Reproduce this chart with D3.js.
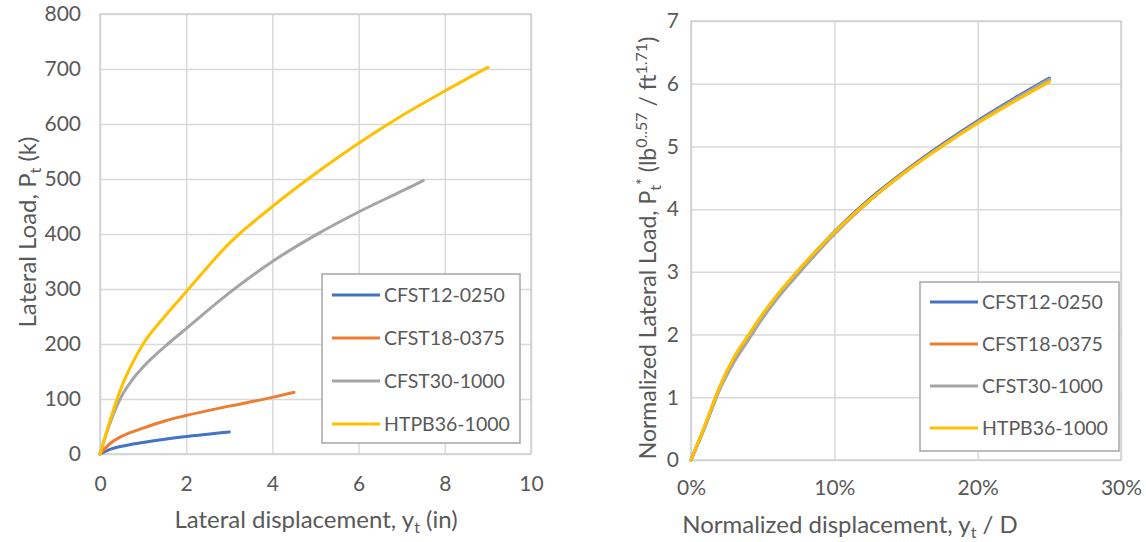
<!DOCTYPE html>
<html>
<head>
<meta charset="utf-8">
<script src="https://cdn.jsdelivr.net/npm/d3@7"></script>
<style>
  body { margin: 0; background: #fff; }
  text { font-family: Lato, "Open Sans", sans-serif; fill: #595959; }
</style>
</head>
<body>
<svg id="chart" width="1146" height="542"></svg>
<script>
// series names + colours
var names = ["CFST12-0250", "CFST18-0375", "CFST30-1000", "HTPB36-1000"];
var colors = ["#4472C4", "#ED7D31", "#A5A5A5", "#FFC000"];

// left panel: lateral displacement (in) vs lateral load (k)
var disp12 = [0, 0.25, 0.5, 1, 1.5, 2, 2.5, 3];
var load12 = [0, 9, 14, 21, 27, 32, 36, 40];
var disp18 = [0, 0.25, 0.5, 1, 1.5, 2, 3, 4, 4.5];
var load18 = [0, 20, 32, 47, 60, 70, 87, 103, 112];
var disp30 = [0, 0.25, 0.5, 0.75, 1, 1.5, 2, 3, 4, 5, 6, 7, 7.5];
var load30 = [0, 60, 105, 135, 158, 195, 228, 293, 350, 398, 440, 478, 497];
var disp36 = [0, 0.25, 0.5, 0.75, 1, 1.5, 2, 3, 4, 5, 6, 7, 8, 9];
var load36 = [0, 65, 122, 165, 200, 250, 295, 383, 450, 510, 565, 615, 660, 703];

// right panel: normalized displacement (yt/D) vs normalized load
var ndisp = [0, 0.01, 0.02, 0.03, 0.04, 0.05, 0.06, 0.075, 0.1, 0.125, 0.15, 0.175, 0.2, 0.225, 0.25];
var nload12 = [0, 0.55, 1.15, 1.62, 1.97, 2.31, 2.62, 3.02, 3.64, 4.17, 4.62, 5.03, 5.41, 5.76, 6.09];
var nload18 = [0, 0.56, 1.16, 1.62, 1.97, 2.31, 2.61, 3.01, 3.63, 4.15, 4.61, 5.01, 5.39, 5.73, 6.06];
var nload30 = [0, 0.54, 1.12, 1.56, 1.91, 2.26, 2.57, 2.97, 3.6, 4.14, 4.6, 5.01, 5.39, 5.74, 6.07];
var nload36 = [0, 0.57, 1.17, 1.64, 1.99, 2.33, 2.63, 3.03, 3.63, 4.15, 4.6, 5.0, 5.37, 5.71, 6.03];

var leftTicksY = [0, 100, 200, 300, 400, 500, 600, 700, 800];
var leftTicksX = [0, 2, 4, 6, 8, 10];
var rightTicksY = [0, 1, 2, 3, 4, 5, 6, 7];
var rightTicksX = [0, 0.1, 0.2, 0.3];

var svg = d3.select("#chart");

function zip(xs, ys) {
	return xs.map(function(x, i) { return [x, ys[i]]; });
}

function drawPanel(p) {
	var g = svg.append("g");
	var x = d3.scaleLinear().domain(p.xDomain).range([p.left, p.right]);
	var y = d3.scaleLinear().domain(p.yDomain).range([p.bottom, p.top]);

	// grid + tick labels
	var yAxis = g.append("g")
		.attr("transform", "translate(" + p.left + ",0)")
		.call(d3.axisLeft(y).tickValues(p.yTicks).tickSize(-(p.right - p.left)).tickPadding(p.yPad).tickFormat(p.yFmt));
	var xAxis = g.append("g")
		.attr("transform", "translate(0," + p.bottom + ")")
		.call(d3.axisBottom(x).tickValues(p.xTicks).tickSize(-(p.bottom - p.top)).tickPadding(p.xPad).tickFormat(p.xFmt));
	[yAxis, xAxis].forEach(function(a) {
		a.select(".domain").remove();
		a.selectAll(".tick line").style("stroke", "#d9d9d9").style("stroke-width", 1.5);
		a.selectAll(".tick text").style("font-size", "21px").style("fill", "#595959")
			.style("font-family", "Lato, 'Open Sans', sans-serif");
	});

	g.append("rect")
		.attr("x", p.left).attr("y", p.top)
		.attr("width", p.right - p.left).attr("height", p.bottom - p.top)
		.style("fill", "none").style("stroke", "#d0d0d0").style("stroke-width", 1.5);

	var line = d3.line()
		.x(function(d) { return x(d[0]); })
		.y(function(d) { return y(d[1]); })
		.curve(d3.curveMonotoneX);

	p.series.forEach(function(s, k) {
		g.append("path")
			.datum(s)
			.attr("d", line)
			.style("fill", "none")
			.style("stroke", colors[k])
			.style("stroke-width", 3)
			.style("stroke-linecap", "round");
	});

	// legend
	var lg = p.legend;
	g.append("rect")
		.attr("x", lg.x).attr("y", lg.y).attr("width", lg.w).attr("height", lg.h)
		.style("fill", "#fff").style("stroke", "#a6a6a6").style("stroke-width", 1.5);
	names.forEach(function(n, k) {
		var yy = lg.y + lg.first + k * lg.step;
		g.append("line")
			.attr("x1", lg.x + 10).attr("x2", lg.x + 58)
			.attr("y1", yy).attr("y2", yy)
			.style("stroke", colors[k]).style("stroke-width", 3);
		g.append("text")
			.attr("x", lg.x + 62).attr("y", yy + 7)
			.style("font-size", "19.5px")
			.text(n);
	});

	return g;
}

var leftG = drawPanel({
	left: 100, right: 531, top: 14, bottom: 454,
	xDomain: [0, 10], yDomain: [0, 800],
	xTicks: leftTicksX, yTicks: leftTicksY,
	xFmt: d3.format("d"), yFmt: d3.format("d"),
	yPad: 19, xPad: 22,
	series: [zip(disp12, load12), zip(disp18, load18), zip(disp30, load30), zip(disp36, load36)],
	legend: {x: 322, y: 274, w: 198, h: 169, first: 21, step: 43}
});

var rightG = drawPanel({
	left: 691, right: 1121, top: 21, bottom: 460,
	xDomain: [0, 0.3], yDomain: [0, 7],
	xTicks: rightTicksX, yTicks: rightTicksY,
	xFmt: d3.format(".0%"), yFmt: d3.format("d"),
	yPad: 12, xPad: 20,
	series: [zip(ndisp, nload12), zip(ndisp, nload18), zip(ndisp, nload30), zip(ndisp, nload36)],
	legend: {x: 920, y: 282, w: 199, h: 169, first: 20, step: 42}
});

// axis titles
var t1 = svg.append("text")
	.attr("x", 316).attr("y", 528)
	.attr("text-anchor", "middle")
	.style("font-size", "24px");
t1.append("tspan").text("Lateral displacement, y");
t1.append("tspan").attr("dy", 5).style("font-size", "16px").text("t");
t1.append("tspan").attr("dy", -5).text(" (in)");

var t2 = svg.append("text")
	.attr("transform", "translate(36,232) rotate(-90)")
	.attr("text-anchor", "middle")
	.style("font-size", "24px");
t2.append("tspan").text("Lateral Load, P");
t2.append("tspan").attr("dy", 5).style("font-size", "16px").text("t");
t2.append("tspan").attr("dy", -5).text(" (k)");

var t3 = svg.append("text")
	.attr("x", 850).attr("y", 533)
	.attr("text-anchor", "middle")
	.style("font-size", "24px");
t3.append("tspan").text("Normalized displacement, y");
t3.append("tspan").attr("dy", 5).style("font-size", "16px").text("t");
t3.append("tspan").attr("dy", -5).text(" / D");

var t4 = svg.append("text")
	.attr("transform", "translate(656,248) rotate(-90)")
	.attr("text-anchor", "middle")
	.style("font-size", "23px");
t4.append("tspan").text("Normalized Lateral Load, P");
t4.append("tspan").attr("dy", 5).style("font-size", "16px").text("t");
t4.append("tspan").attr("dy", -14).style("font-size", "16px").text("*");
t4.append("tspan").attr("dy", 9).text(" (lb");
t4.append("tspan").attr("dy", -9).style("font-size", "16px").text("0..57");
t4.append("tspan").attr("dy", 9).text(" / ft");
t4.append("tspan").attr("dy", -9).style("font-size", "16px").text("1.71");
t4.append("tspan").attr("dy", 9).text(")");
</script>
</body>
</html>
